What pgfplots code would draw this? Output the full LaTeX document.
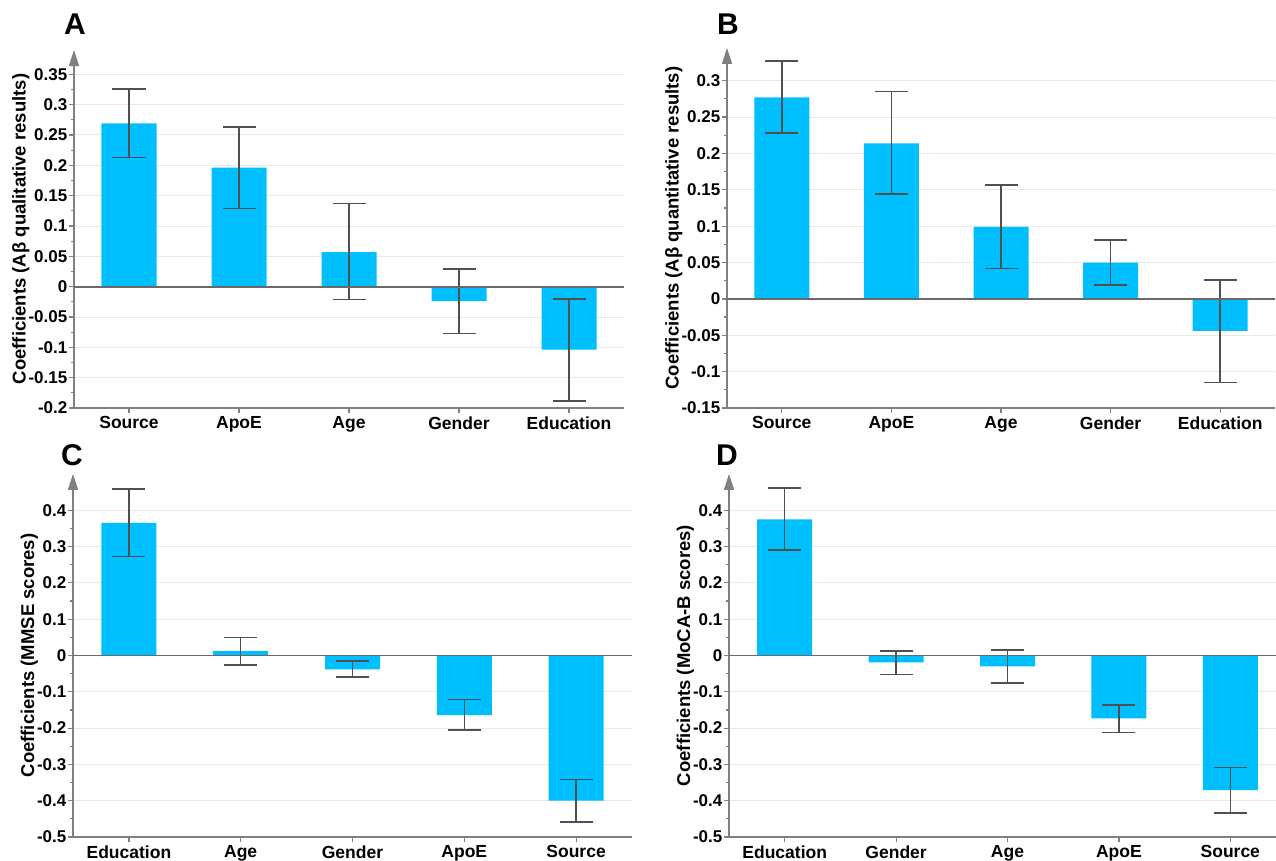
\documentclass[border=0pt]{standalone}
\usepackage{pgfplots}
\pgfplotsset{compat=1.18}
\usepackage{pgfplotstable}
\usetikzlibrary{arrows.meta}
\usepackage{fontspec}
\setmainfont{Liberation Sans}
\definecolor{barblue}{RGB}{0,191,255}
\definecolor{axisgray}{RGB}{128,128,128}
\definecolor{errgray}{RGB}{80,80,80}
\definecolor{zerogray}{RGB}{105,105,105}
\definecolor{gridgray}{RGB}{232,232,232}

\pgfplotstableread{
x y ep em
0 0.269 0.057 0.056
1 0.196 0.067 0.067
2 0.057 0.080 0.078
3 -0.024 0.053 0.053
4 -0.104 0.084 0.084
}\dataA
\pgfplotstableread{
x y ep em
0 0.277 0.050 0.049
1 0.214 0.071 0.070
2 0.099 0.058 0.057
3 0.050 0.031 0.031
4 -0.044 0.070 0.071
}\dataB
\pgfplotstableread{
x y ep em
0 0.365 0.093 0.092
1 0.012 0.038 0.038
2 -0.038 0.023 0.022
3 -0.164 0.043 0.042
4 -0.400 0.058 0.058
}\dataC
\pgfplotstableread{
x y ep em
0 0.375 0.086 0.085
1 -0.019 0.032 0.033
2 -0.030 0.045 0.046
3 -0.173 0.037 0.039
4 -0.371 0.062 0.063
}\dataD

\pgfplotsset{
  panel/.style={
    scale only axis,
    anchor=south west,
    axis x line*=bottom,
    axis y line=left,
    xmin=-0.5, xmax=4.5,
    xtick={0,1,2,3,4},
    enlargelimits=false,
    tick align=outside,
    major tick length=5pt,
    minor tick length=3pt,
    minor y tick num=1,
    ymajorgrids,
    grid style={draw=gridgray, line width=0.9pt},
    axis line style={draw=axisgray, line width=1.6pt},
    y axis line style={-{Triangle[width=10pt,length=16pt]}},
    tick style={draw=axisgray, line width=1.2pt},
    yticklabel style={font=\bfseries\fontsize{17}{17}\selectfont, inner sep=1.5pt},
    xticklabel style={font=\bfseries\fontsize{17.5}{17.5}\selectfont},
    ylabel style={font=\bfseries\fontsize{18.5}{18.5}\selectfont},
    ylabel shift=-6pt,
    /pgf/number format/fixed,
    /pgf/number format/precision=2,
    /pgf/number format/assume math mode=true,
  },
  bars/.style={
    ybar, fill=barblue, draw=none, bar width=55pt,
    error bars/.cd, y dir=both, y explicit,
    error mark=|,
    error bar style={draw=errgray, line width=1.5pt},
    error mark options={draw=errgray, line width=1.6pt, mark size=16.5pt},
  },
}

\begin{document}
\begin{tikzpicture}
% Panel A
\begin{axis}[panel, at={(74pt,452pt)}, width=550pt, height=358pt,
  ymin=-0.2, ymax=0.39,
  ytick={-0.2,-0.15,-0.1,-0.05,0,0.05,0.1,0.15,0.2,0.25,0.3,0.35},
  xticklabels={Source,ApoE,Age,Gender,Education},
  ylabel={Coefficients (Aβ qualitative results)}]
\addplot[bars] table[x=x, y=y, y error plus=ep, y error minus=em] {\dataA};
\draw[zerogray, line width=1.8pt] (axis cs:-0.5,0) -- (axis cs:4.5,0);
\end{axis}
% Panel B
\begin{axis}[panel, at={(727pt,452pt)}, width=548pt, height=360pt,
  ymin=-0.15, ymax=0.345,
  ytick={-0.15,-0.1,-0.05,0,0.05,0.1,0.15,0.2,0.25,0.3},
  xticklabels={Source,ApoE,Age,Gender,Education},
  ylabel={Coefficients (Aβ quantitative results)}]
\addplot[bars] table[x=x, y=y, y error plus=ep, y error minus=em] {\dataB};
\draw[zerogray, line width=1.8pt] (axis cs:-0.5,0) -- (axis cs:4.5,0);
\end{axis}
% Panel C
\begin{axis}[panel, at={(73pt,23pt)}, width=559pt, height=363pt,
  ymin=-0.5, ymax=0.5,
  ytick={-0.5,-0.4,-0.3,-0.2,-0.1,0,0.1,0.2,0.3,0.4},
  xticklabels={Education,Age,Gender,ApoE,Source},
  ylabel={Coefficients (MMSE scores)}]
\addplot[bars] table[x=x, y=y, y error plus=ep, y error minus=em] {\dataC};
\draw[zerogray, line width=1.8pt] (axis cs:-0.5,0) -- (axis cs:4.5,0);
\end{axis}
% Panel D
\begin{axis}[panel, at={(729pt,23pt)}, width=557pt, height=363pt,
  ymin=-0.5, ymax=0.5,
  ytick={-0.5,-0.4,-0.3,-0.2,-0.1,0,0.1,0.2,0.3,0.4},
  xticklabels={Education,Gender,Age,ApoE,Source},
  ylabel={Coefficients (MoCA-B scores)}]
\addplot[bars] table[x=x, y=y, y error plus=ep, y error minus=em] {\dataD};
\draw[zerogray, line width=1.8pt] (axis cs:-0.5,0) -- (axis cs:4.5,0);
\end{axis}
% Panel letters
\node[font=\bfseries\fontsize{30}{30}\selectfont] at (75pt,836pt) {A};
\node[font=\bfseries\fontsize{30}{30}\selectfont] at (728pt,836pt) {B};
\node[font=\bfseries\fontsize{30}{30}\selectfont] at (72pt,405pt) {C};
\node[font=\bfseries\fontsize{30}{30}\selectfont] at (727pt,405pt) {D};
\pgfresetboundingbox
\path[use as bounding box] (0pt,0pt) rectangle (1276pt,860pt);
\end{tikzpicture}
\end{document}
